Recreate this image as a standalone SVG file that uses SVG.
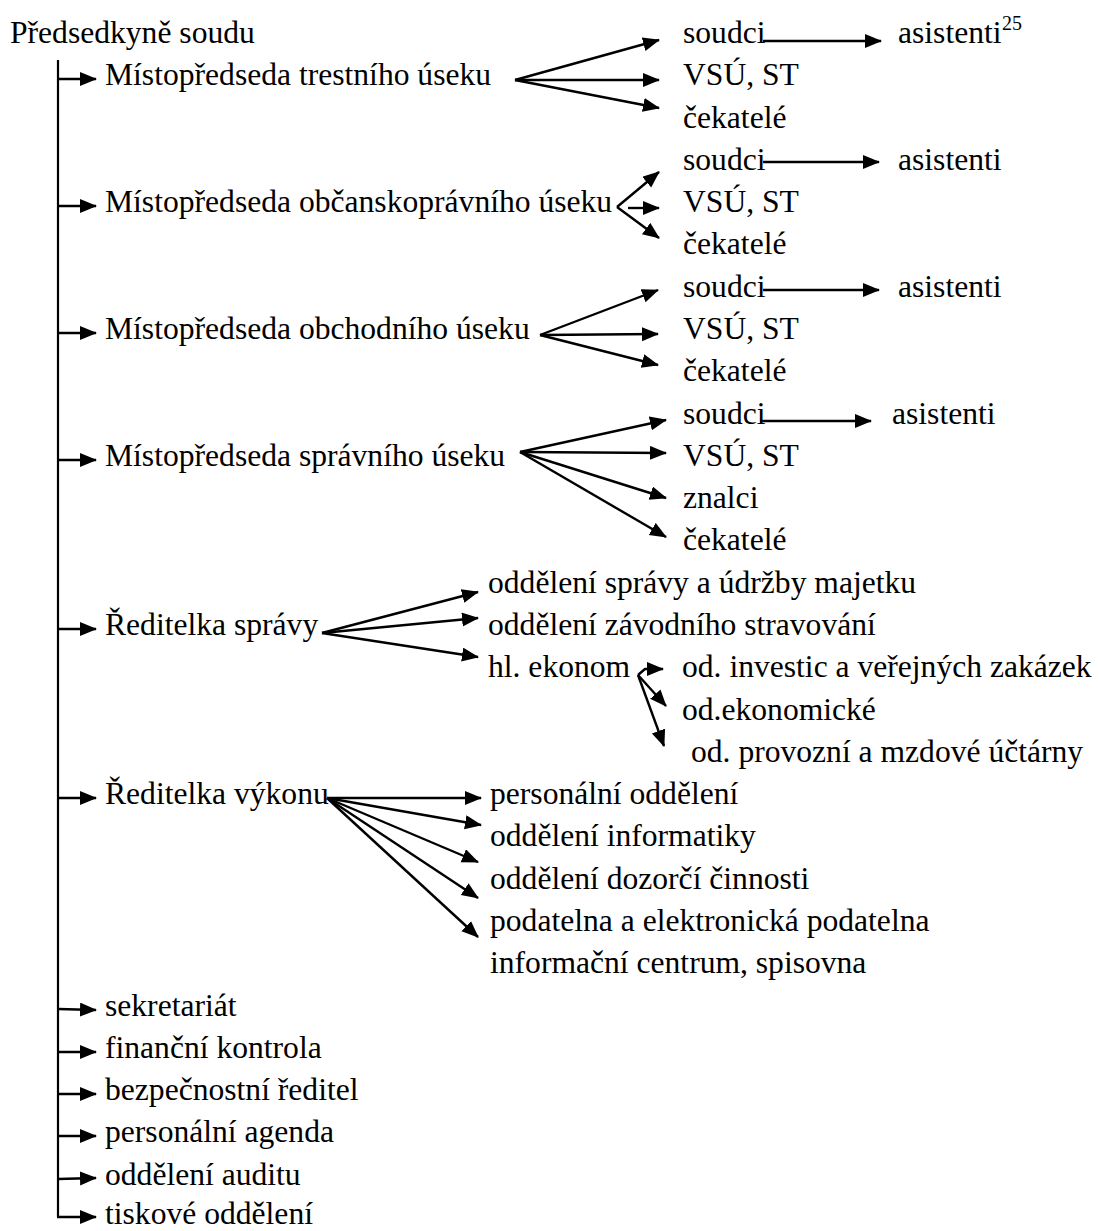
<svg xmlns="http://www.w3.org/2000/svg" width="1099" height="1231" viewBox="0 0 1099 1231" font-family="'Liberation Serif', 'Times New Roman', Tinos, 'DejaVu Serif', serif">
<style>
text{font-family:"Liberation Serif","Times New Roman",Tinos,"DejaVu Serif",serif;font-size:31.6px;fill:#000}
.sup{font-size:20px}
.c line,.c polyline{stroke:#000;stroke-width:2.4;fill:none;marker-end:url(#ah)}
.c .trunk{marker-end:none;stroke-width:2.2}
</style>
<defs>
<marker id="ah" markerUnits="userSpaceOnUse" markerWidth="18" markerHeight="16" refX="16" refY="7" orient="auto">
<path d="M0,0 L17,7 L0,14 z" fill="#000"/>
</marker>
</defs>
<g id="connectors" class="c">
<line class="trunk" x1="58" y1="60" x2="58" y2="1217"/>
<line x1="58" y1="79" x2="96" y2="79"/>
<line x1="58" y1="206" x2="96" y2="206"/>
<line x1="58" y1="333" x2="96" y2="333"/>
<line x1="58" y1="460" x2="96" y2="460"/>
<line x1="58" y1="629" x2="96" y2="629"/>
<line x1="58" y1="798" x2="96" y2="798"/>
<line x1="58" y1="1009" x2="96" y2="1010"/>
<line x1="58" y1="1052" x2="96" y2="1052"/>
<line x1="58" y1="1094" x2="96" y2="1094"/>
<line x1="58" y1="1136" x2="96" y2="1136"/>
<line x1="58" y1="1179" x2="96" y2="1178"/>
<line x1="57" y1="1217" x2="96" y2="1217"/>
<line x1="515" y1="80" x2="659" y2="40"/>
<line x1="515" y1="80" x2="659" y2="80"/>
<line x1="515" y1="80" x2="659" y2="108"/>
<line x1="763" y1="41" x2="881" y2="41"/>
<line x1="617" y1="207" x2="659" y2="172"/>
<line x1="628" y1="208" x2="659" y2="208"/>
<line x1="617" y1="207" x2="659" y2="238"/>
<line x1="763" y1="162" x2="879" y2="162"/>
<line x1="540" y1="335" x2="658" y2="290"/>
<line x1="540" y1="335" x2="658" y2="334"/>
<line x1="540" y1="335" x2="658" y2="365"/>
<line x1="763" y1="290" x2="879" y2="290"/>
<line x1="520" y1="452" x2="666" y2="420"/>
<line x1="520" y1="452" x2="666" y2="453"/>
<line x1="520" y1="452" x2="666" y2="498"/>
<line x1="520" y1="452" x2="666" y2="537"/>
<line x1="760" y1="421" x2="871" y2="421"/>
<line x1="322" y1="633" x2="478" y2="592"/>
<line x1="322" y1="633" x2="478" y2="618"/>
<line x1="322" y1="633" x2="478" y2="657"/>
<polyline points="638,675 645,669 663,669"/>
<line x1="638" y1="675" x2="666" y2="706"/>
<line x1="638" y1="675" x2="664" y2="746"/>
<line x1="327" y1="798" x2="481" y2="798"/>
<line x1="327" y1="798" x2="481" y2="825"/>
<line x1="327" y1="798" x2="478" y2="862"/>
<line x1="327" y1="798" x2="478" y2="898"/>
<line x1="327" y1="798" x2="478" y2="937"/>
</g>
<g id="predsedkyne"><text x="10" y="43">Předsedkyně soudu</text></g>
<g id="mp-trestni"><text x="105" y="85">Místopředseda trestního úseku</text></g>
<g id="t-soudci"><text x="683" y="43">soudci</text></g>
<g id="t-asistenti"><text x="898" y="43">asistenti</text><text class="sup" x="1002" y="30">25</text></g>
<g id="t-vsu"><text x="683" y="85">VSÚ, ST</text></g>
<g id="t-cekatele"><text x="683" y="128">čekatelé</text></g>
<g id="mp-obcanskopravni"><text x="105" y="212">Místopředseda občanskoprávního úseku</text></g>
<g id="o-soudci"><text x="683" y="170">soudci</text></g>
<g id="o-asistenti"><text x="898" y="170">asistenti</text></g>
<g id="o-vsu"><text x="683" y="212">VSÚ, ST</text></g>
<g id="o-cekatele"><text x="683" y="254">čekatelé</text></g>
<g id="mp-obchodni"><text x="105" y="339">Místopředseda obchodního úseku</text></g>
<g id="ob-soudci"><text x="683" y="297">soudci</text></g>
<g id="ob-asistenti"><text x="898" y="297">asistenti</text></g>
<g id="ob-vsu"><text x="683" y="339">VSÚ, ST</text></g>
<g id="ob-cekatele"><text x="683" y="381">čekatelé</text></g>
<g id="mp-spravni"><text x="105" y="466">Místopředseda správního úseku</text></g>
<g id="s-soudci"><text x="683" y="424">soudci</text></g>
<g id="s-asistenti"><text x="892" y="424">asistenti</text></g>
<g id="s-vsu"><text x="683" y="466">VSÚ, ST</text></g>
<g id="s-znalci"><text x="683" y="508">znalci</text></g>
<g id="s-cekatele"><text x="683" y="550">čekatelé</text></g>
<g id="reditelka-spravy"><text x="105" y="635">Ředitelka správy</text></g>
<g id="odd-spravy"><text x="488" y="593">oddělení správy a údržby majetku</text></g>
<g id="odd-stravovani"><text x="488" y="635">oddělení závodního stravování</text></g>
<g id="hl-ekonom"><text x="488" y="677">hl. ekonom</text></g>
<g id="od-investic"><text x="682" y="677">od. investic a veřejných zakázek</text></g>
<g id="od-ekonomicke"><text x="682" y="720">od.ekonomické</text></g>
<g id="od-provozni"><text x="691" y="762">od. provozní a mzdové účtárny</text></g>
<g id="reditelka-vykonu"><text x="105" y="804">Ředitelka výkonu</text></g>
<g id="personalni-odd"><text x="490" y="804">personální oddělení</text></g>
<g id="odd-informatiky"><text x="490" y="846">oddělení informatiky</text></g>
<g id="odd-dozorci"><text x="490" y="889">oddělení dozorčí činnosti</text></g>
<g id="podatelna"><text x="490" y="931">podatelna a elektronická podatelna</text></g>
<g id="info-centrum"><text x="490" y="973">informační centrum, spisovna</text></g>
<g id="sekretariat"><text x="105" y="1016">sekretariát</text></g>
<g id="financni-kontrola"><text x="105" y="1058">finanční kontrola</text></g>
<g id="bezpecnostni-reditel"><text x="105" y="1100">bezpečnostní ředitel</text></g>
<g id="personalni-agenda"><text x="105" y="1142">personální agenda</text></g>
<g id="odd-auditu"><text x="105" y="1185">oddělení auditu</text></g>
<g id="tiskove-odd"><text x="105" y="1224">tiskové oddělení</text></g>
</svg>
